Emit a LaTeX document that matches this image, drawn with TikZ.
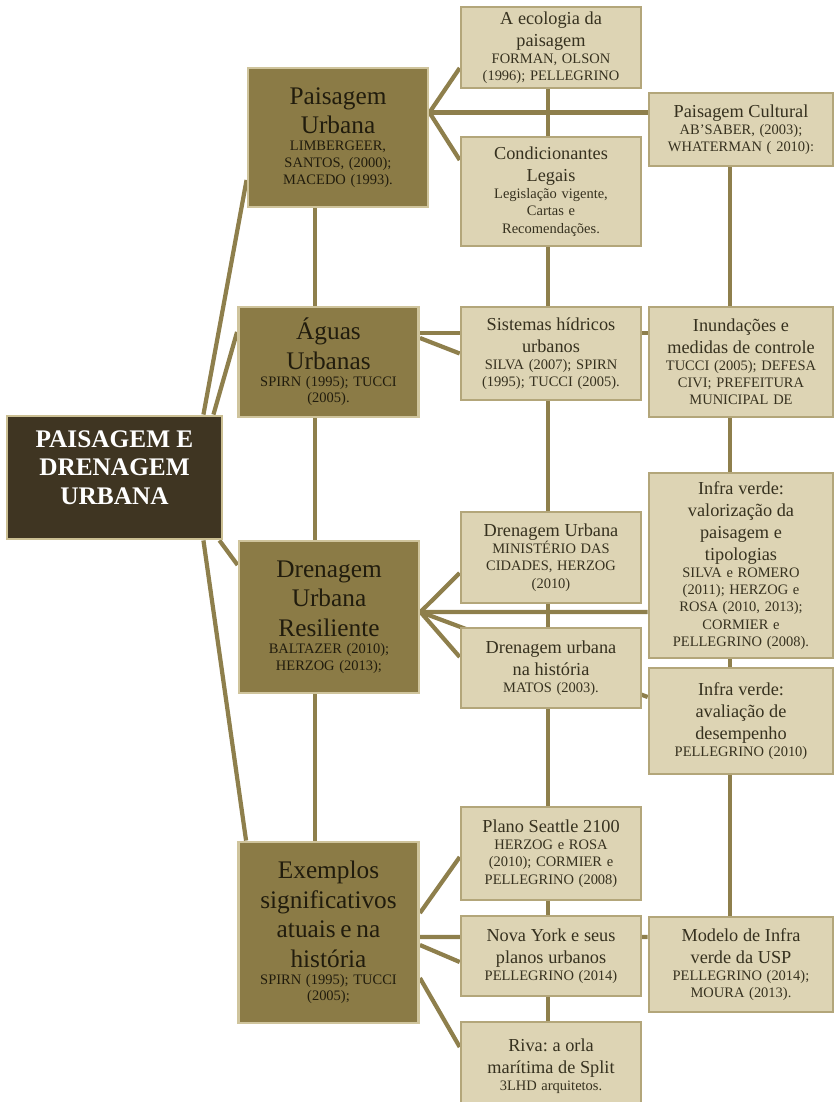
\documentclass[tikz,border=0pt]{standalone}
\usepackage{fontspec}
\setmainfont{Liberation Serif}
\usepackage{tikz}
\usetikzlibrary{calc, backgrounds}
\frenchspacing
\definecolor{rootfill}{HTML}{3F3522}
\definecolor{rootedge}{HTML}{CBBF93}
\definecolor{topicfill}{HTML}{8B7B46}
\definecolor{topicedge}{HTML}{CFC49C}
\definecolor{topictext}{HTML}{211C0D}
\definecolor{itemfill}{HTML}{DDD4B4}
\definecolor{itemedge}{HTML}{B3A67A}
\definecolor{itemtext}{HTML}{36311F}
\definecolor{linkcol}{HTML}{8E7F4C}
\newcommand{\bigtxt}{\fontsize{18}{21}\selectfont}
\newcommand{\bigref}{\fontsize{10.3}{12}\selectfont}
\newcommand{\midtxt}{\fontsize{13}{15.6}\selectfont}
\newcommand{\smallref}{\fontsize{10.3}{12.2}\selectfont}
\tikzstyle{root} = [rectangle,
minimum width=5.375cm,
minimum height=3.075cm,
text depth=0.5cm,
align=center,
draw=rootedge,
line width=2pt,
fill=rootfill,
text=white,
font=\fontsize{18}{20.5}\selectfont\bfseries]
\tikzstyle{topic} = [rectangle,
minimum width=4.5cm,
text width=4.3cm,
inner xsep=0.1cm,
inner ysep=0pt,
align=center,
draw=topicedge,
line width=2pt,
fill=topicfill,
text=topictext]
\tikzstyle{item} = [rectangle,
text width=4.3cm,
inner xsep=0.1cm,
inner ysep=0pt,
align=center,
draw=itemedge,
line width=1.8pt,
fill=itemfill,
text=itemtext]
\tikzstyle{wide} = [text width=4.4cm]
\tikzstyle{link} = [line width=3pt, draw=linkcol]

\begin{document}
\begin{tikzpicture}[x=0.025cm, y=-0.025cm]
\useasboundingbox (0,0) rectangle (835,1102);
\node (root) [root] at (114.5,477.5) {PAISAGEM E\\DRENAGEM\\URBANA};
\node (pu) [topic, minimum height=3.475cm] at (338,137.5) {{\bigtxt Paisagem\\Urbana\par}{\bigref LIMBERGEER,\\SANTOS, (2000);\\MACEDO (1993).\par}};
\node (au) [topic, minimum height=2.75cm] at (328.5,362) {{\bigtxt Águas\\Urbanas\par}{\bigref SPIRN (1995); TUCCI\\(2005).\par}};
\node (dr) [topic, minimum height=3.8cm] at (329,617) {{\bigtxt Drenagem\\Urbana\\Resiliente\par}{\bigref BALTAZER (2010);\\HERZOG (2013);\par}};
\node (ex) [topic, minimum height=4.525cm] at (328.5,932.5) {{\bigtxt Exemplos\\significativos\\atuais e na\\história\par}{\bigref SPIRN (1995); TUCCI\\(2005);\par}};
\node (eco) [item, minimum height=2.025cm] at (551,47.5) {{\midtxt A ecologia da\\paisagem\par}{\smallref FORMAN, OLSON\\(1996); PELLEGRINO\par}};
\node (cond) [item, minimum height=2.725cm] at (551,191.5) {{\midtxt Condicionantes\\Legais\par}{\smallref Legislação vigente,\\Cartas e\\Recomendações.\par}};
\node (sist) [item, minimum height=2.325cm] at (551,353.5) {{\midtxt Sistemas hídricos\\urbanos\par}{\smallref SILVA (2007); SPIRN\\(1995); TUCCI (2005).\par}};
\node (dru) [item, minimum height=2.275cm] at (551,557.5) {{\midtxt Drenagem Urbana\par}{\smallref MINISTÉRIO DAS\\CIDADES, HERZOG\\(2010)\par}};
\node (hist) [item, minimum height=2cm] at (551,668) {{\midtxt Drenagem urbana\\na história\par}{\smallref MATOS (2003).\par}};
\node (plano) [item, minimum height=2.325cm] at (551,853.5) {{\midtxt Plano Seattle 2100\par}{\smallref HERZOG e ROSA\\(2010); CORMIER e\\PELLEGRINO (2008)\par}};
\node (ny) [item, minimum height=2cm] at (551,956) {{\midtxt Nova York e seus\\planos urbanos\par}{\smallref PELLEGRINO (2014)\par}};
\node (riva) [item, minimum height=2.2cm] at (551,1066) {{\midtxt Riva: a orla\\marítima de Split\par}{\smallref 3LHD arquitetos.\par}};
\node (cult) [item, wide, minimum height=1.825cm] at (741,129.5) {{\midtxt Paisagem Cultural\par}{\smallref AB’SABER, (2003);\\WHATERMAN ( 2010):\par}};
\node (inund) [item, wide, minimum height=2.75cm] at (741,362) {{\midtxt Inundações e\\medidas de controle\par}{\smallref TUCCI (2005); DEFESA\\CIVI; PREFEITURA\\MUNICIPAL DE\par}};
\node (valor) [item, wide, minimum height=4.625cm] at (741,565.5) {{\midtxt Infra verde:\\valorização da\\paisagem e\\tipologias\par}{\smallref SILVA e ROMERO\\(2011); HERZOG e\\ROSA (2010, 2013);\\CORMIER e\\PELLEGRINO (2008).\par}};
\node (aval) [item, wide, minimum height=2.65cm] at (741,721) {{\midtxt Infra verde:\\avaliação de\\desempenho\par}{\smallref PELLEGRINO (2010)\par}};
\node (modelo) [item, wide, minimum height=2.375cm] at (741,964.5) {{\midtxt Modelo de Infra\\verde da USP\par}{\smallref PELLEGRINO (2014);\\MOURA (2013).\par}};
\coordinate (spine1) at (315,0);
\coordinate (spine2) at (548,0);
\coordinate (spine3) at (730,0);
\begin{scope}[on background layer]
\draw [link] ($(root.north east)+(-20,0)$) -- ($(pu.west)+(0,42.5)$);
\draw [link] ($(root.north east)+(-10,0)$) -- ($(au.west)+(0,-30)$);
\draw [link] ($(root.south east)+(-4,0)$) -- ($(dr.west)+(0,-52)$);
\draw [link] ($(root.south east)+(-20,0)$) -- ($(ex.north west)+(9,0)$);
\draw [link] (pu.south -| spine1) -- (au.north -| spine1);
\draw [link] (au.south -| spine1) -- (dr.north -| spine1);
\draw [link] (dr.south -| spine1) -- (ex.north -| spine1);
\draw [link] ($(pu.east)+(0,-25)$) -- ($(eco.west)+(0,20.5)$);
\draw [link] ($(pu.east)+(0,-25)$) -- ($(cond.west)+(0,-31.5)$);
\draw [link] ($(pu.east)+(0,-25)$) -- ($(cult.west)+(0,-17)$);
\draw [link] ($(au.east)+(0,-29)$) -- ($(inund.west)+(0,-29)$);
\draw [link] ($(au.east)+(0,-24)$) -- (sist.west);
\draw [link] ($(dr.east)+(0,-5)$) -- ($(dru.west)+(0,15.5)$);
\draw [link] ($(dr.east)+(0,-5)$) -- ($(valor.west)+(0,46.5)$);
\draw [link] ($(dr.east)+(0,-5)$) -- ($(aval.west)+(0,-24)$);
\draw [link] ($(dr.east)+(0,-5)$) -- ($(hist.west)+(0,-11)$);
\draw [link] ($(ex.east)+(0,-19.5)$) -- ($(plano.west)+(0,3.5)$);
\draw [link] ($(ex.east)+(0,4.5)$) -- ($(modelo.west)+(0,-27.5)$);
\draw [link] ($(ex.east)+(0,12.5)$) -- ($(ny.west)+(0,6)$);
\draw [link] ($(ex.east)+(0,45.5)$) -- ($(riva.west)+(0,-19)$);
\draw [link] (eco.south -| spine2) -- (cond.north -| spine2);
\draw [link] (cond.south -| spine2) -- (sist.north -| spine2);
\draw [link] (sist.south -| spine2) -- (dru.north -| spine2);
\draw [link] (dru.south -| spine2) -- (hist.north -| spine2);
\draw [link] (hist.south -| spine2) -- (plano.north -| spine2);
\draw [link] (plano.south -| spine2) -- (ny.north -| spine2);
\draw [link] (ny.south -| spine2) -- (riva.north -| spine2);
\draw [link] (cult.south -| spine3) -- (inund.north -| spine3);
\draw [link] (inund.south -| spine3) -- (valor.north -| spine3);
\draw [link] (valor.south -| spine3) -- (aval.north -| spine3);
\draw [link] (aval.south -| spine3) -- (modelo.north -| spine3);
\end{scope}
\end{tikzpicture}
\end{document}
